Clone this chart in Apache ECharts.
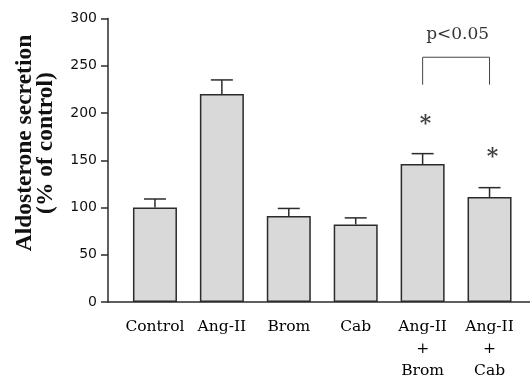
<!DOCTYPE html>
<html>
<head>
<meta charset="utf-8">
<script src="https://cdn.jsdelivr.net/npm/echarts@6/dist/echarts.min.js"></script>
<style>
  html, body { margin: 0; padding: 0; background: #fff; }
  #chart { width: 530px; height: 379px; }
</style>
</head>
<body>
<div id="chart"></div>
<script>
// data
const categories = ['Control', 'Ang-II', 'Brom', 'Cab', 'Ang-II\n+\nBrom', 'Ang-II\n+\nCab'];
const means = [100, 220, 91, 82, 146, 111];
const errUpper = [109, 235, 99, 89, 157, 121];
const starPoints = [[4, 191], [5, 156]];
const bracket = [[4, 230], [4, 259], [5, 259], [5, 230]];
const pLabel = 'p<0.05';
const pLabelPos = [4, 283];
const yTicks = { min: 0, max: 300, interval: 50 };

const chart = echarts.init(document.getElementById('chart'));

const ink = '#2b2b2b';

const option = {
    animation: false,
    grid: [
        // frame grid: axes lines + y labels
        { left: 108, right: 0, top: 18.5, bottom: 77, outerBoundsMode: 'none' },
        // bars grid
        { left: 121.5, right: 7, top: 18.5, bottom: 77, outerBoundsMode: 'none' }
    ],
    xAxis: [
        {
            gridIndex: 0, type: 'value', min: 0, max: 1,
            axisLine: { show: true, lineStyle: { color: ink, width: 1.5 } },
            axisTick: { show: false }, axisLabel: { show: false }, splitLine: { show: false }
        },
        {
            gridIndex: 1, type: 'category', data: categories,
            axisLine: { show: false }, axisTick: { show: false },
            axisLabel: {
                interval: 0, margin: 14, color: '#000',
                fontFamily: 'DejaVu Serif', fontSize: 15.5, lineHeight: 22,
                verticalAlign: 'top'
            }
        }
    ],
    yAxis: [
        {
            gridIndex: 0, type: 'value', ...yTicks,
            axisLine: { show: true, lineStyle: { color: ink, width: 1.5 } },
            axisTick: { show: true, inside: false, length: 7, lineStyle: { color: ink, width: 1.5 } },
            axisLabel: { margin: 11, color: '#111', fontFamily: 'DejaVu Sans', fontSize: 14 },
            splitLine: { show: false }
        },
        {
            gridIndex: 1, type: 'value', ...yTicks, show: false
        }
    ],
    series: [
        {
            type: 'bar',
            xAxisIndex: 1, yAxisIndex: 1,
            data: means,
            barWidth: 44,
            itemStyle: { color: '#d9d9d9', borderColor: ink, borderWidth: 1.5 }
        },
        {
            type: 'custom',
            xAxisIndex: 1, yAxisIndex: 1,
            data: means.map((m, i) => [i, m, errUpper[i]]),
            renderItem: (params, api) => {
                const base = api.coord([api.value(0), api.value(1)]);
                const top = api.coord([api.value(0), api.value(2)]);
                const half = 11;
                return {
                    type: 'group',
                    children: [
                        { type: 'line', shape: { x1: base[0], y1: base[1], x2: top[0], y2: top[1] },
                          style: { stroke: ink, lineWidth: 1.5 } },
                        { type: 'line', shape: { x1: top[0] - half, y1: top[1], x2: top[0] + half, y2: top[1] },
                          style: { stroke: ink, lineWidth: 1.5 } }
                    ]
                };
            },
            z: 3
        },
        {
            type: 'line',
            xAxisIndex: 1, yAxisIndex: 1,
            data: bracket,
            symbol: 'none',
            lineStyle: { color: '#444', width: 1 }
        },
        {
            type: 'scatter',
            xAxisIndex: 1, yAxisIndex: 1,
            data: starPoints,
            symbolSize: 0,
            label: {
                show: true, position: 'inside', formatter: '*',
                fontFamily: 'DejaVu Serif', fontWeight: 'bold', fontSize: 22, color: '#111', offset: [3, 3]
            }
        },
        {
            type: 'scatter',
            xAxisIndex: 1, yAxisIndex: 1,
            data: [pLabelPos],
            symbolSize: 0,
            label: {
                show: true, position: 'inside', formatter: pLabel,
                fontFamily: 'DejaVu Serif', fontSize: 17, color: '#000', offset: [35, 0]
            }
        }
    ],
    graphic: [
        {
            type: 'text',
            x: 35, y: 143,
            rotation: Math.PI / 2,
            style: {
                text: 'Aldosterone secretion\n(% of control)',
                font: 'bold 23.5px "Liberation Serif"',
                fill: '#111',
                align: 'center',
                verticalAlign: 'middle',
                lineHeight: 21
            }
        }
    ]
};

chart.setOption(option);
</script>
</body>
</html>
